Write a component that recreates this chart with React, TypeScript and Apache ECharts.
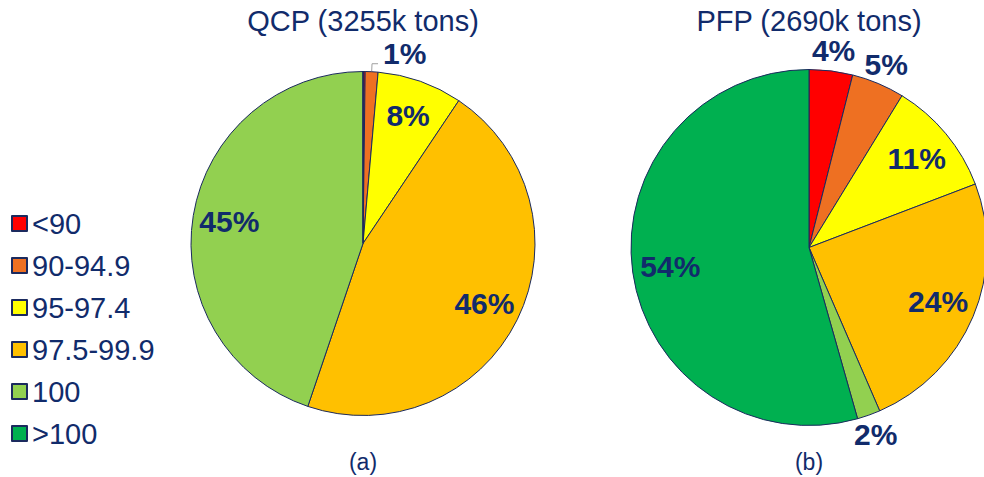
import React, { useEffect, useRef } from "react";
import * as echarts from "echarts";

const categories = ["<90", "90-94.9", "95-97.4", "97.5-99.9", "100", ">100"];
const colors = ["#FF0000", "#EE7022", "#FFFF00", "#FFC000", "#92D050", "#00B050"];

const qcpValues = [0.2, 1.2, 8.0, 45.8, 44.8, 0];
const qcpLabels = ["", "1%", "8%", "46%", "45%", ""];
const qcpPlacement = ["none", "leader", "inside", "inside", "inside", "none"];

const pfpValues = [3.95, 4.8, 10.45, 24.3, 2.1, 54.4];
const pfpLabels = ["4%", "5%", "11%", "24%", "2%", "54%"];
const pfpPlacement = ["outside", "outside", "inside", "inside", "outside", "inside"];

const titles = ["QCP (3255k tons)", "PFP (2690k tons)"];
const captions = ["(a)", "(b)"];

const NAVY = "#112B6B";
const BORDER = "#1B2A5E";
const FONT = "'Liberation Sans', Arial, sans-serif";

export default function App() {
  const ref = useRef<HTMLDivElement>(null);
  useEffect(() => {
    document.body.style.margin = "0";
    const chart = echarts.init(ref.current!, null, { renderer: "svg" });

    const labelStyle = {
      color: NAVY,
      fontSize: 30,
      fontWeight: "bold" as const,
      fontFamily: FONT,
    };

    const mainData = (values: number[], labels: string[], placement: string[]) =>
      values.map((v, i) => ({
        name: categories[i],
        value: v,
        itemStyle: { color: colors[i], borderColor: BORDER, borderWidth: 1 },
        label: {
          show: placement[i] === "leader",
          position: "outside",
          formatter: labels[i],
          ...labelStyle,
        },
        labelLine: {
          show: placement[i] === "leader",
          length: 8,
          length2: 6,
          lineStyle: { color: "#A0A0A0", width: 1 },
        },
      }));

    const overlayData = (values: number[], labels: string[], placement: string[], which: string) =>
      values.map((v, i) => ({
        name: categories[i],
        value: v,
        itemStyle: { color: "rgba(0,0,0,0)", borderWidth: 0 },
        label: {
          show: placement[i] === which,
          position: "inside",
          formatter: labels[i],
          ...labelStyle,
        },
        labelLine: { show: false },
      }));

    const pies = [
      { center: [363, 243.5], r: 172, values: qcpValues, labels: qcpLabels, placement: qcpPlacement },
      { center: [809, 247.5], r: 178, values: pfpValues, labels: pfpLabels, placement: pfpPlacement },
    ];

    const series: any[] = [];
    pies.forEach((p) => {
      series.push({
        type: "pie",
        center: p.center,
        radius: [0, p.r],
        startAngle: 90,
        clockwise: true,
        avoidLabelOverlap: false,
        minAngle: 0,
        labelLayout: { dy: -10 },
        data: mainData(p.values, p.labels, p.placement),
      });
    });
    pies.forEach((p) => {
      series.push({
        type: "pie",
        center: p.center,
        radius: [p.r * 0.54, p.r],
        startAngle: 90,
        silent: true,
        avoidLabelOverlap: false,
        data: overlayData(p.values, p.labels, p.placement, "inside"),
      });
      series.push({
        type: "pie",
        center: p.center,
        radius: [p.r, p.r * 1.2],
        startAngle: 90,
        silent: true,
        avoidLabelOverlap: false,
        data: overlayData(p.values, p.labels, p.placement, "outside"),
      });
    });

    chart.setOption({
      animation: false,
      legend: {
        data: categories,
        orient: "vertical",
        left: 6,
        top: 204,
        icon: "rect",
        itemWidth: 15,
        itemHeight: 15,
        itemGap: 13,
        selectedMode: false,
        textStyle: {
          color: NAVY,
          fontSize: 29,
          fontFamily: FONT,
          lineHeight: 28,
        },
      },
      graphic: [
        ...titles.map((t, i) => ({
          type: "text",
          x: pies[i].center[0],
          y: 21,
          style: { text: t, fontSize: 29, fontFamily: FONT, fill: NAVY, align: "center", verticalAlign: "middle" },
        })),
        ...captions.map((t, i) => ({
          type: "text",
          x: pies[i].center[0],
          y: 462,
          style: { text: t, fontSize: 23, fontFamily: FONT, fill: NAVY, align: "center", verticalAlign: "middle" },
        })),
      ],
      series,
    });
    return () => chart.dispose();
  }, []);
  return <div ref={ref} style={{ width: 984, height: 477 }} />;
}
